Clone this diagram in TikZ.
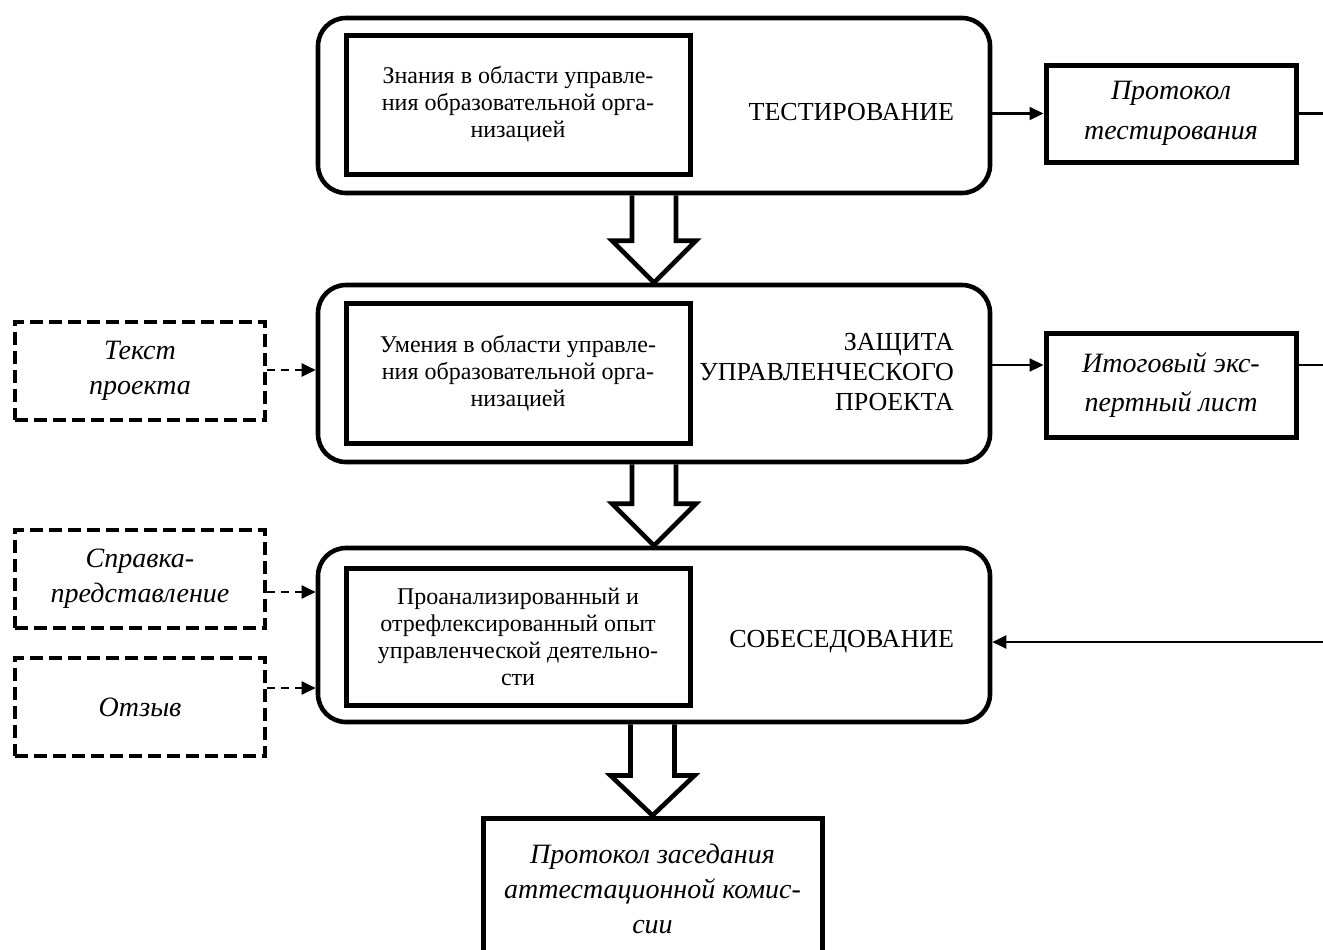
\documentclass[tikz,border=0pt]{standalone}
\usepackage{fontspec}
\setmainfont{Liberation Serif}
\usetikzlibrary{arrows.meta, positioning, calc}

\begin{document}
\begin{tikzpicture}[x=0.5pt, y=-0.5pt,
  stage/.style={rectangle, rounded corners=14pt, draw, line width=2.3pt,
    minimum width=336pt, minimum height=#1},
  res/.style={rectangle, draw, line width=2.5pt, minimum width=172pt,
    minimum height=#1, align=center, font=\fontsize{12}{13.5}\selectfont},
  doc/.style={rectangle, draw, line width=2.5pt, minimum width=125pt,
    minimum height=#1, align=center, font=\fontsize{14}{20}\selectfont\itshape},
  src/.style={rectangle, draw, dash pattern=on 6.5pt off 3pt, line width=2pt,
    minimum width=125pt, minimum height=49pt, align=center,
    font=\fontsize{14}{17.5}\selectfont\itshape},
  lbl/.style={anchor=east, align=right, font=\fontsize{13}{15}\selectfont},
  link/.style={-{Triangle[length=7pt,width=6.5pt]}, line width=1.1pt},
  dlink/.style={link, dash pattern=on 4pt off 3pt},
  flow/.style={line width=2.3pt, line join=miter}
]
  \useasboundingbox (0,0) rectangle (1323,949);
  \clip (0,0) rectangle (1323,949);

  % Testing
  \node[stage=87.5pt] (t1) at (654,105.5) {};
  \node[res=69.5pt] (k1) at (518,104.5) {Знания в области управле-\\ния образовательной орга-\\низацией};
  \node[lbl] (n1) at (961,112) {ТЕСТИРОВАНИЕ};
  \node[doc=48.5pt] (docA) at (1171,113.5) {Протокол\\тестирования};

  % Project defence
  \node[stage=88.5pt] (t2) at (654,373.5) {};
  \node[res=70pt] (k2) at (518,373) {Умения в области управле-\\ния образовательной орга-\\низацией};
  \node[lbl] (n2) at (961,372) {ЗАЩИТА\\УПРАВЛЕНЧЕСКОГО\\ПРОЕКТА};
  \node[doc=52pt, font=\fontsize{14}{19.5}\selectfont\itshape] (docB) at (1171,385) {Итоговый экс-\\пертный лист};
  \node[src] (srcA) at (140,371) {Текст\\проекта};

  % Interview
  \node[stage=87pt] (t3) at (654,635) {};
  \node[res=68.5pt] (k3) at (518,636.5) {Проанализированный и\\отрефлексированный опыт\\управленческой деятельно-\\сти};
  \node[lbl] (n3) at (961,642) {СОБЕСЕДОВАНИЕ};
  \node[src] (srcB) at (140,579) {Справка-\\представление};
  \node[src] (srcC) at (140,707) {Отзыв};

  % Result
  \node[doc=71pt, minimum width=169.5pt, font=\fontsize{14}{17.5}\selectfont\itshape] (fin) at (652.5,889) {Протокол заседания\\аттестационной комис-\\сии};

  % free ends on the right
  \coordinate (endA) at (1330,113.5);
  \coordinate (endB) at (1330,365);
  \coordinate (endC) at (1330,642);
  \coordinate (hA) at (290,370);
  \coordinate (hB) at (290,592);
  \coordinate (hC) at (290,688);

  \draw[link] (t1.east |- docA.west) -- (docA.west);
  \draw[line width=1.1pt] (docA.east) -- (endA);
  \draw[link] (t2.east |- endB) -- (docB.west |- endB);
  \draw[line width=1.1pt] (docB.east |- endB) -- (endB);
  \draw[link] (endC) -- (t3.east |- endC);

  \draw[dlink] (srcA.east |- hA) -- (t2.west |- hA);
  \draw[dlink] (srcB.east |- hB) -- (t3.west |- hB);
  \draw[dlink] (srcC.east |- hC) -- (t3.west |- hC);

  % hollow arrows
  \draw[flow] ([xshift=-11pt]t1.south) -- ([xshift=-11pt,yshift=21pt]t2.north)
    -- ([xshift=-21pt,yshift=21pt]t2.north) -- (t2.north)
    -- ([xshift=21pt,yshift=21pt]t2.north) -- ([xshift=11pt,yshift=21pt]t2.north)
    -- ([xshift=11pt]t1.south);
  \draw[flow] ([xshift=-11pt]t2.south) -- ([xshift=-11pt,yshift=21pt]t3.north)
    -- ([xshift=-21pt,yshift=21pt]t3.north) -- (t3.north)
    -- ([xshift=21pt,yshift=21pt]t3.north) -- ([xshift=11pt,yshift=21pt]t3.north)
    -- ([xshift=11pt]t2.south);
  \draw[flow] ([xshift=-11pt]fin.north |- t3.south) -- ([xshift=-11pt,yshift=20pt]fin.north)
    -- ([xshift=-21pt,yshift=20pt]fin.north) -- (fin.north)
    -- ([xshift=21pt,yshift=20pt]fin.north) -- ([xshift=11pt,yshift=20pt]fin.north)
    -- ([xshift=11pt]fin.north |- t3.south);
\end{tikzpicture}
\end{document}
